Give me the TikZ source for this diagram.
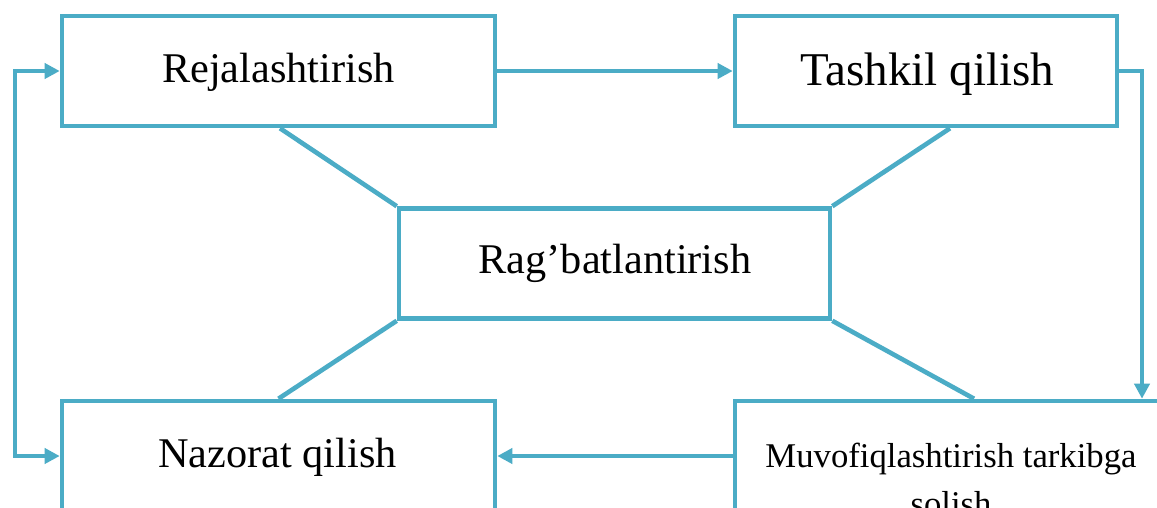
\documentclass[tikz,border=0pt]{standalone}
\usepackage{fontspec}
\setmainfont{Liberation Serif}
\usetikzlibrary{arrows.meta,calc}
\definecolor{accent}{HTML}{4BACC6}
\tikzset{
  box/.style={draw=accent, line width=4.6pt, minimum width=433pt, minimum height=110pt, inner sep=0pt},
  lbl/.style={anchor=base, inner sep=0pt, text=black},
  link/.style={draw=accent, line width=4.6pt},
  conn/.style={link, -{Triangle[length=15pt,width=15pt]}},
  dconn/.style={link, {Triangle[length=15pt,width=15pt]}-{Triangle[length=15pt,width=15pt]}},
}
\begin{document}
\begin{tikzpicture}[x=1pt,y=-1pt]
\useasboundingbox (0,0) rectangle (1157,507);
\fill[white] (0,0) rectangle (1157,507);

% boxes
\node[box] (rej) at (278.5,71) {};
\node[box, minimum width=382pt] (tash) at (926,71) {};
\node[box, minimum width=431pt] (rag) at (614.5,263.5) {};
\node[box] (naz) at (278.5,456) {};
\node[box, minimum width=432pt] (muv) at (951,456) {};

% texts (the two-line label is anchored on its last baseline)
\node[lbl, font=\fontsize{42.3}{50}\selectfont] (rejt) at (278.5,82) {Rejalashtirish};
\node[lbl, font=\fontsize{47}{56}\selectfont] (tasht) at (927,85) {Tashkil qilish};
\node[lbl, font=\fontsize{42.3}{50}\selectfont] (ragt) at (615,273) {Rag’batlantirish};
\node[lbl, font=\fontsize{42.3}{50}\selectfont] (nazt) at (277.5,467) {Nazorat qilish};
\node[lbl, font=\fontsize{34.7}{48}\selectfont, align=center] (muvt) at (951,515) {Muvofiqlashtirish tarkibga\\solish};

% helper points of the feedback loops
\coordinate (lx) at (15,263);
\coordinate (rx) at (1142,263);

% arrows
\draw[conn] (rej.east) -- (tash.west);
\draw[conn] (tash.east) -| (rx |- muv.north);
\draw[dconn] (rej.west) -| (lx) |- (naz.west);
\draw[conn] (muv.west) -- (naz.east);

% links to the centre box
\draw[link] ($(rej.south)+(1.5,0)$) -- (rag.north west);
\draw[link] ($(tash.south)+(24,0)$) -- (rag.north east);
\draw[link] (rag.south west) -- (naz.north);
\draw[link] (rag.south east) -- ($(muv.north)+(23,0)$);
\end{tikzpicture}
\end{document}
